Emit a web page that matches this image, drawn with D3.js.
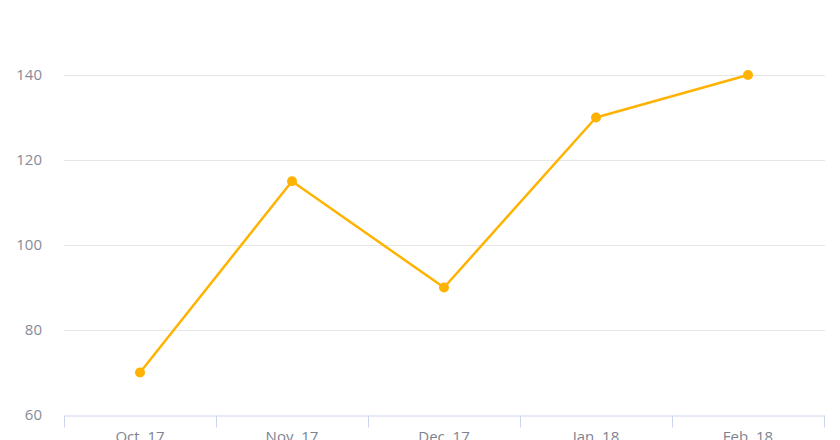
<!DOCTYPE html>
<html>
<head>
<meta charset="utf-8">
<script src="https://cdn.jsdelivr.net/npm/d3@7"></script>
<style>
  body { margin: 0; background: #fff; }
  svg { display: block; font-family: "Open Sans", "DejaVu Sans", sans-serif; }
</style>
</head>
<body>
<div id="chart"></div>
<script>
//chart data
var months = ["Oct. 17", "Nov. 17", "Dec. 17", "Jan. 18", "Feb. 18"];
var values = [70, 115, 90, 130, 140];
var yTicks = [60, 80, 100, 120, 140];

var width = 840;
var height = 440;
var margin = {top: 0, right: 16, bottom: 25, left: 64};

var svg = d3.select("#chart")
            .append("svg")
            .attr("width", width)
            .attr("height", height);

//band scale for the categories, points in the middle of each band
var xScale = d3.scaleBand()
               .domain(months)
               .range([margin.left, width - margin.right]);

//60 at the axis line, 140 near the top
var yScale = d3.scaleLinear()
               .domain([60, 140])
               .range([height - margin.bottom, 75]);

//horizontal gridlines
svg.append("g")
   .selectAll("line")
   .data(yTicks.slice(1))
   .enter()
   .append("line")
   .attr("x1", margin.left)
   .attr("x2", width - margin.right + 1)
   .attr("y1", function(d) { return Math.round(yScale(d)) + 0.5; })
   .attr("y2", function(d) { return Math.round(yScale(d)) + 0.5; })
   .style("stroke", "#e6e6e6")
   .style("stroke-width", 1);

//y axis labels
var yAxis = d3.axisLeft(yScale)
              .tickValues(yTicks)
              .tickSize(0)
              .tickPadding(22);
var gy = svg.append("g")
            .attr("transform", "translate(" + margin.left + ",0)")
            .call(yAxis);
gy.select(".domain").remove();
gy.selectAll("text")
  .style("font-size", "15px")
  .style("fill", "#858b96")
  .style("font-family", "'Open Sans', sans-serif");

//x axis with ticks at the band edges
var xAxis = d3.axisBottom(xScale).tickSize(0).tickPadding(16);
var gx = svg.append("g")
            .attr("transform", "translate(0," + (Math.round(yScale(60)) + 0.5) + ")")
            .call(xAxis);
gx.select(".domain")
  .style("stroke", "#ccd6eb");
gx.selectAll("text")
  .style("font-size", "15px")
  .style("fill", "#7d838e")
  .style("font-family", "'Open Sans', sans-serif");

var edges = months.map(function(m) { return xScale(m); });
edges.push(xScale.range()[1]);
gx.selectAll("line.edge")
  .data(edges)
  .enter()
  .append("line")
  .attr("class", "edge")
  .attr("x1", function(d) { return Math.round(d) + 0.5; })
  .attr("x2", function(d) { return Math.round(d) + 0.5; })
  .attr("y1", 0)
  .attr("y2", 12)
  .style("stroke", "#ccd6eb");

//the line and its markers
var lineGen = d3.line()
                .x(function(d, i) { return xScale(months[i]) + xScale.bandwidth() / 2; })
                .y(function(d) { return yScale(d); });

svg.append("path")
   .attr("d", lineGen(values))
   .style("fill", "none")
   .style("stroke", "#ffb300")
   .style("stroke-width", 2.5)
   .style("stroke-linejoin", "round");

svg.selectAll("circle")
   .data(values)
   .enter()
   .append("circle")
   .attr("cx", function(d, i) { return xScale(months[i]) + xScale.bandwidth() / 2; })
   .attr("cy", function(d) { return yScale(d); })
   .attr("r", 5)
   .style("fill", "#ffb300");
</script>
</body>
</html>
